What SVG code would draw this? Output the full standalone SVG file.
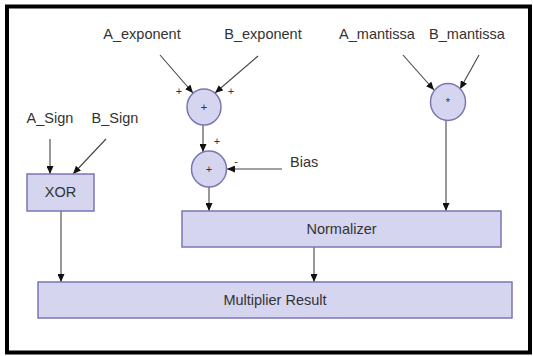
<svg xmlns="http://www.w3.org/2000/svg" width="533" height="356" viewBox="0 0 533 356">
<defs>
<style>
text{font-family:"Liberation Sans",Arial,sans-serif;fill:#333;}
.lbl{font-size:14.5px;}
.ctr{text-anchor:middle;}
.sm{font-size:11px;text-anchor:middle;}
.box{fill:#d5d5ef;stroke:#7a76b4;stroke-width:1.5;}
.ln{stroke:#444;stroke-width:1.1;fill:none;marker-end:url(#ah);}
</style>
<marker id="ah" markerUnits="userSpaceOnUse" markerWidth="8" markerHeight="7" refX="8" refY="3.5" orient="auto">
<path d="M0,0 L8,3.5 L0,7 z" fill="#111"/>
</marker>
</defs>
<rect x="0" y="0" width="533" height="356" fill="#fff"/>
<rect x="7" y="6.5" width="523" height="346" fill="none" stroke="#000" stroke-width="4"/>

<g id="connectors">
<line class="ln" x1="160" y1="55" x2="193" y2="93"/>
<line class="ln" x1="258" y1="56" x2="215" y2="93"/>
<line class="ln" x1="203" y1="125" x2="203" y2="152"/>
<line class="ln" x1="282" y1="169" x2="227" y2="169"/>
<line class="ln" x1="209" y1="187" x2="209" y2="211"/>
<line class="ln" x1="403" y1="55" x2="434" y2="90"/>
<line class="ln" x1="479" y1="55" x2="460" y2="89"/>
<line class="ln" x1="446" y1="121" x2="446" y2="211"/>
<line class="ln" x1="50" y1="139" x2="50" y2="174"/>
<line class="ln" x1="106" y1="139" x2="73" y2="174"/>
<line class="ln" x1="61" y1="211" x2="61" y2="282"/>
<line class="ln" x1="314" y1="247" x2="314" y2="282"/>
</g>

<g id="labels">
<text class="lbl ctr" x="142" y="39">A_exponent</text>
<text class="lbl ctr" x="263" y="39">B_exponent</text>
<text class="lbl ctr" x="377" y="39">A_mantissa</text>
<text class="lbl ctr" x="467" y="39">B_mantissa</text>
<text class="lbl ctr" x="50" y="123">A_Sign</text>
<text class="lbl ctr" x="115" y="123">B_Sign</text>
<text class="lbl" x="290" y="167">Bias</text>
<text class="sm" x="179" y="95">+</text>
<text class="sm" x="231" y="95">+</text>
<text class="sm" x="217" y="145">+</text>
<text class="sm" x="236" y="165">-</text>
</g>

<g id="adder1">
<ellipse class="box" cx="204" cy="107" rx="17" ry="18"/>
<text class="sm" x="204" y="111">+</text>
</g>
<g id="adder2">
<ellipse class="box" cx="209" cy="169" rx="17.5" ry="18"/>
<text class="sm" x="209" y="173">+</text>
</g>
<g id="multiplier">
<ellipse class="box" cx="448" cy="102" rx="17.5" ry="18.5"/>
<text class="sm" x="448" y="106">*</text>
</g>
<g id="xor">
<rect class="box" x="27" y="174" width="67" height="37"/>
<text class="lbl ctr" x="60.5" y="197">XOR</text>
</g>
<g id="normalizer">
<rect class="box" x="182" y="211" width="319" height="36"/>
<text class="lbl ctr" x="341.5" y="234">Normalizer</text>
</g>
<g id="result">
<rect class="box" x="38" y="282" width="474" height="36"/>
<text class="lbl ctr" x="275" y="305">Multiplier Result</text>
</g>
</svg>
